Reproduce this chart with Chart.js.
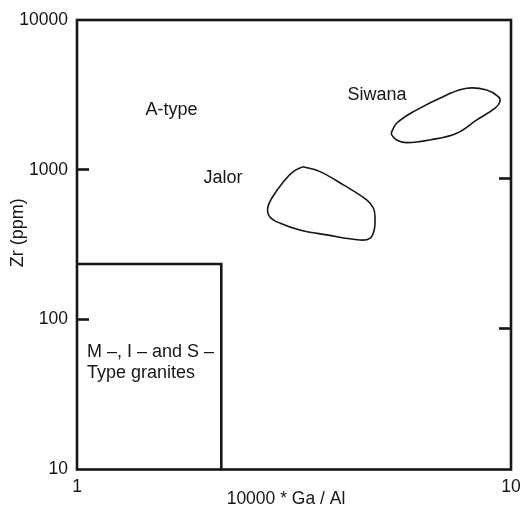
<!DOCTYPE html>
<html>
<head>
<meta charset="utf-8">
<script src="https://cdn.jsdelivr.net/npm/chart.js@4.4.0/dist/chart.umd.min.js"></script>
<style>
  html, body { margin: 0; padding: 0; background: #fff; }
  #wrap { width: 525px; height: 512px; }
</style>
</head>
<body>
<div id="wrap"><canvas id="canvas"></canvas></div>
<script>
// outline of the Jalor field (10000*Ga/Al, Zr ppm)
var jalorX = [3.32, 3.63, 4.11, 4.65, 4.82, 4.86, 4.84, 4.73, 4.49, 3.76, 3.26, 2.94, 2.78, 2.75, 2.81, 2.99, 3.15, 3.32];
var jalorY = [1050, 973, 793, 630, 554, 487, 397, 349, 340, 368, 397, 440, 487, 554, 646, 834, 973, 1050];

// outline of the Siwana field
var siwanaX = [5.31, 5.45, 5.96, 7.11, 7.91, 8.79, 9.35, 9.43, 9.19, 8.34, 7.50, 6.51, 5.75, 5.45, 5.31, 5.31];
var siwanaY = [1799, 2047, 2446, 3162, 3505, 3415, 3082, 2853, 2578, 2153, 1755, 1583, 1519, 1583, 1710, 1799];

// M-, I- and S-type granite box limits
var boxGaAl = 2.15;
var boxZr = 235;

var xTicks = [1, 10];
var yTicks = [10, 100, 1000, 10000];
var yTickMarks = [100, 1000];
var rightTickMarks = [87, 870];

var fieldLabels = ['A-type', 'Siwana', 'Jalor', 'M \u2013, I \u2013 and S \u2013', 'Type granites'];
var labelX = [1.65, 4.91, 2.17, 1.054, 1.054];
var labelY = [2326, 2929, 818, 56.4, 40.8];
var labelAlign = ['center', 'center', 'center', 'left', 'left'];

var xTitle = '10000 * Ga / Al';
var yTitle = 'Zr (ppm)';

var ink = '#161616';
var fontFam = '"Liberation Sans", Arial, Helvetica, sans-serif';

function pts(xs, ys) {
  var out = [];
  for (var i = 0; i < xs.length; i++) out.push({x: xs[i], y: ys[i]});
  return out;
}

var framePlugin = {
  id: 'frame',
  afterDatasetsDraw: function(chart) {
    var a = chart.chartArea, c = chart.ctx;
    c.save();
    c.strokeStyle = ink;
    c.lineWidth = 2.6;
    c.strokeRect(a.left, a.top, a.right - a.left, a.bottom - a.top);
    c.restore();
  }
};

var labelPlugin = {
  id: 'fieldLabels',
  afterDraw: function(chart) {
    var c = chart.ctx, sx = chart.scales.x, sy = chart.scales.y, a = chart.chartArea;
    c.save();
    c.fillStyle = ink;
    c.font = '18px ' + fontFam;
    c.textBaseline = 'alphabetic';
    for (var i = 0; i < fieldLabels.length; i++) {
      c.textAlign = labelAlign[i];
      c.fillText(fieldLabels[i], sx.getPixelForValue(labelX[i]), sy.getPixelForValue(labelY[i]));
    }
    // axis titles
    c.textAlign = 'center';
    c.textBaseline = 'middle';
    c.font = '17.5px ' + fontFam;
    c.fillText(xTitle, (a.left + a.right) / 2 - 8, a.bottom + 30);
    c.translate(18, (a.top + a.bottom) / 2 - 12);
    c.rotate(-Math.PI / 2);
    c.font = '18px ' + fontFam;
    c.fillText(yTitle, 0, 0);
    c.restore();
  }
};

var lineStyle = {
  showLine: true,
  pointRadius: 0,
  borderColor: ink,
  backgroundColor: 'transparent',
  fill: false
};

window.onload = function() {
  var ctx = document.getElementById('canvas').getContext('2d');
  window.myChart = new Chart(ctx, {
    type: 'scatter',
    data: {
      datasets: [
        Object.assign({label: 'Jalor', data: pts(jalorX, jalorY), borderWidth: 1.6, tension: 0.4}, lineStyle),
        Object.assign({label: 'Siwana', data: pts(siwanaX, siwanaY), borderWidth: 1.6, tension: 0.4}, lineStyle),
        Object.assign({label: 'MIS', data: [{x: 1, y: boxZr}, {x: boxGaAl, y: boxZr}, {x: boxGaAl, y: 10}], borderWidth: 2.6, tension: 0}, lineStyle)
      ]
    },
    options: {
      responsive: true,
      maintainAspectRatio: false,
      animation: false,
      devicePixelRatio: 1,
      layout: { padding: { top: 20, left: 0, right: 0, bottom: 0 } },
      plugins: { legend: { display: false }, tooltip: { enabled: false } },
      scales: {
        x: {
          type: 'logarithmic', min: 1, max: 10, position: 'bottom',
          afterBuildTicks: function(s) { s.ticks = xTicks.map(function(v) { return {value: v}; }); },
          afterFit: function(s) { s.height = 42.5; s.paddingLeft = 0; s.paddingRight = 0; },
          ticks: { color: ink, font: { family: fontFam, size: 17.5 }, padding: 7, maxRotation: 0, autoSkip: false,
                   callback: function(v) { return String(v); } },
          grid: { drawOnChartArea: false, drawTicks: false },
          border: { display: false }
        },
        y: {
          type: 'logarithmic', min: 10, max: 10000, position: 'left',
          afterBuildTicks: function(s) { s.ticks = yTicks.map(function(v) { return {value: v}; }); },
          afterFit: function(s) { s.width = 77; s.paddingTop = 0; s.paddingBottom = 0; },
          ticks: { color: ink, font: { family: fontFam, size: 17.5 }, padding: 21, autoSkip: false,
                   callback: function(v) { return String(v); } },
          grid: {
            drawOnChartArea: false, drawTicks: true, tickLength: -12, tickWidth: 2.6,
            tickColor: function(c) { return c.tick && yTickMarks.indexOf(c.tick.value) >= 0 ? ink : 'rgba(0,0,0,0)'; }
          },
          border: { display: false }
        },
        y2: {
          type: 'logarithmic', min: 10, max: 10000, position: 'right',
          afterBuildTicks: function(s) { s.ticks = rightTickMarks.map(function(v) { return {value: v}; }); },
          afterFit: function(s) { s.width = 14; s.paddingTop = 0; s.paddingBottom = 0; },
          ticks: { display: false },
          grid: { drawOnChartArea: false, drawTicks: true, tickLength: -12, tickWidth: 2.6, tickColor: ink },
          border: { display: false }
        }
      }
    },
    plugins: [framePlugin, labelPlugin]
  });
};
</script>
</body>
</html>
